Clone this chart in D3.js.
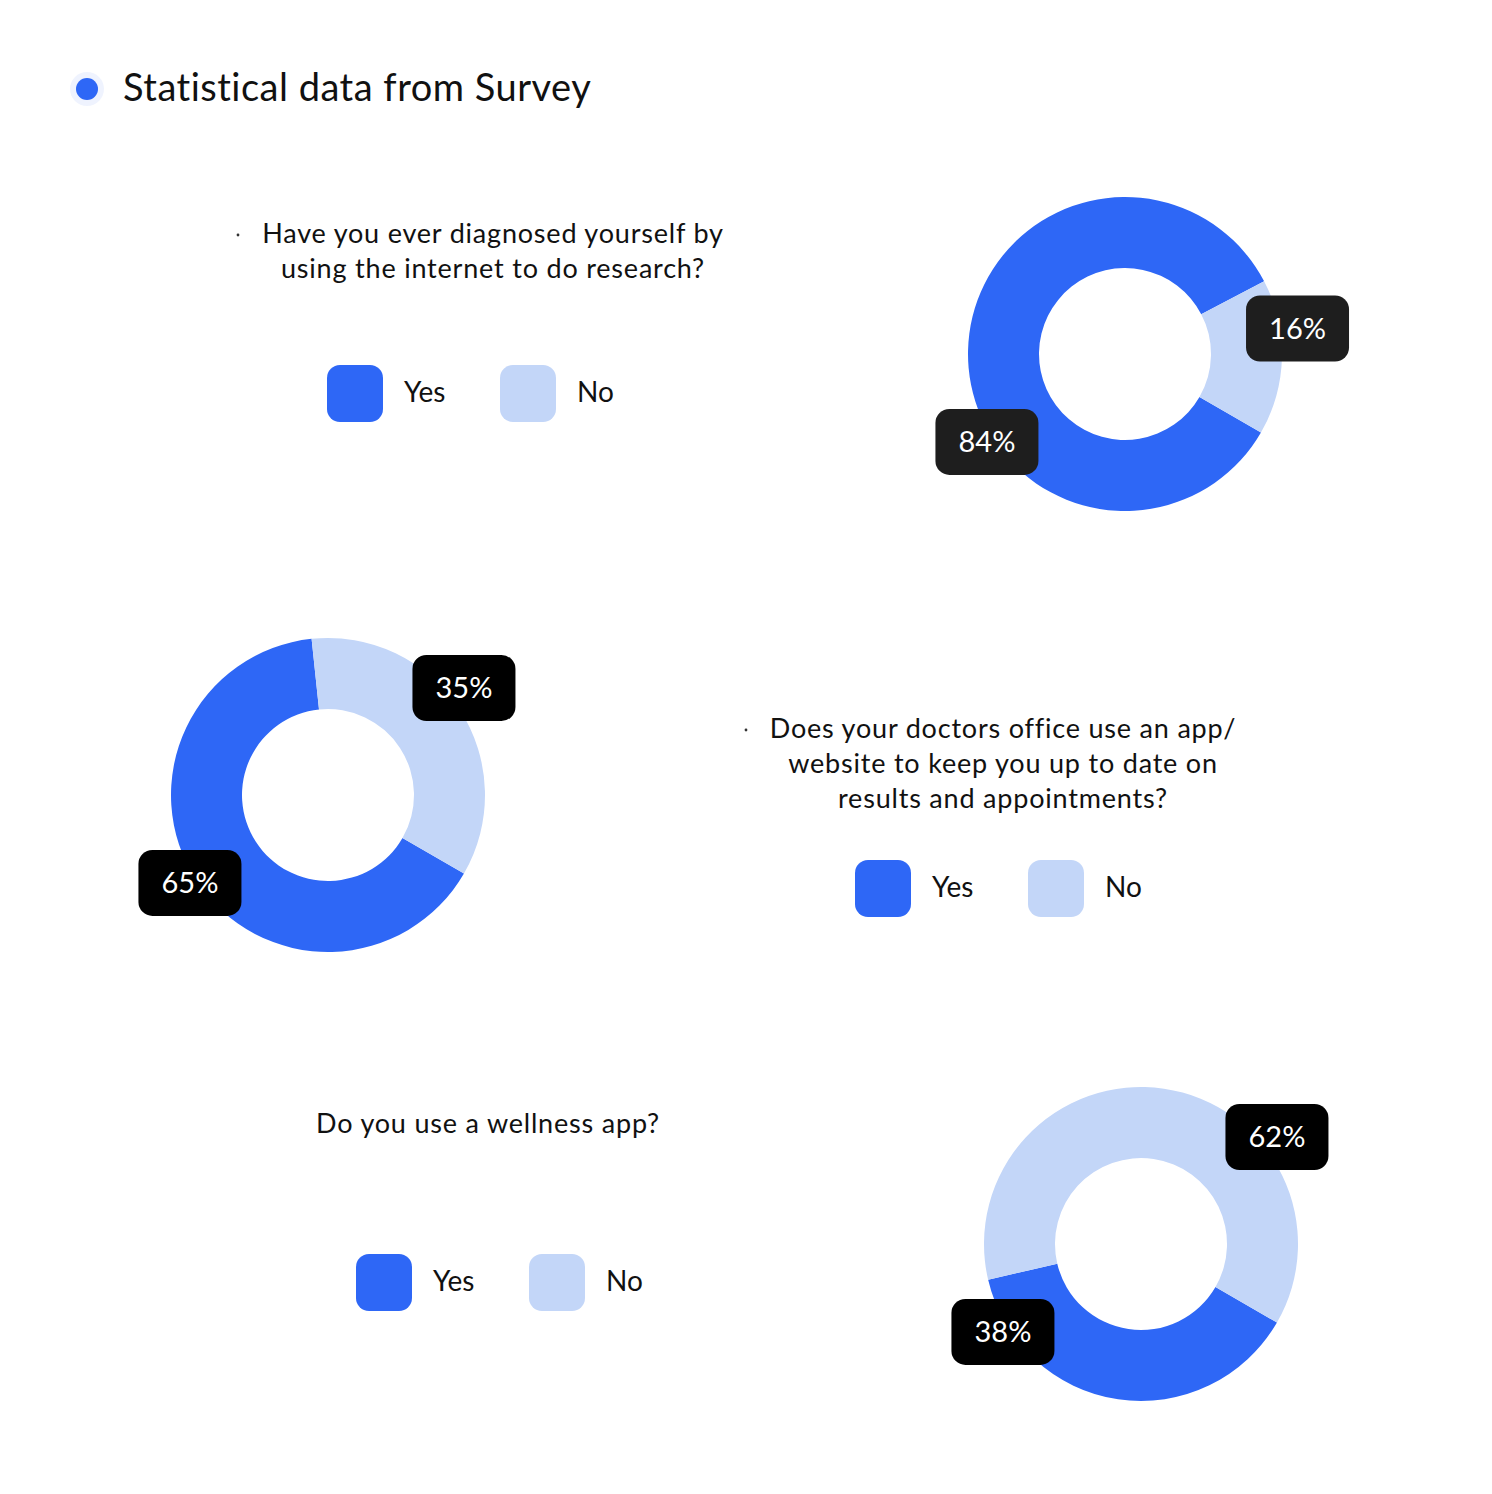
<!DOCTYPE html>
<html><head><meta charset="utf-8">
<script src="https://cdn.jsdelivr.net/npm/d3@7/dist/d3.min.js"></script>
<style>
html,body{margin:0;padding:0;background:#fff;}
svg text{font-family:Lato,"Noto Sans",sans-serif;}
</style></head>
<body>
<svg id="chart" width="1492" height="1494"></svg>
<script>
// ---- data ----
const title = "Statistical data from Survey";
const categories = ["Yes", "No"];
const questions = [
  ["Have you ever diagnosed yourself by", "using the internet to do research?"],
  ["Does your doctors office use an app/", "website to keep you up to date on", "results and appointments?"],
  ["Do you use a wellness app?"]
];
const bullets = [true, true, false];
const yesValues = [84, 65, 38];
const noValues = [16, 35, 62];
const valueLabels = [["84%", "16%"], ["65%", "35%"], ["38%", "62%"]];

// ---- layout / style ----
const W = 1492, H = 1494;
const colors = {Yes: "#2E67F6", No: "#C3D6F8"};
const donutCenters = [[1125, 354], [328, 795], [1141, 1244]];
const outerR = 157, innerR = 86;
const startDeg = 120;
const labelAngles = [[237.5, 81.6], [237.5, 51.8], [237.5, 51.8]];
const labelRadii = [[163.7, 174.4], [163.7, 173], [163.7, 173]];
const labelFill = ["#1E1E1E", "#000000", "#000000"];
const textCenters = [[493, 243], [1003, 738], [488, 1133]];
const bulletX = [238, 746, null];
const legendPos = [[327, 365], [855, 860], [356, 1254]];

const svg = d3.select("#chart");

// title
svg.append("circle").attr("cx", 87).attr("cy", 89).attr("r", 17).attr("fill", "#2E67F6").attr("opacity", 0.08);
svg.append("circle").attr("cx", 87).attr("cy", 89).attr("r", 11).attr("fill", "#2E67F6");
svg.append("text").attr("x", 123).attr("y", 101).attr("font-size", 38).attr("letter-spacing", 0.5)
  .attr("fill", "#111").text(title);

const pie = d3.pie().sort(null).value(d => d.value)
  .startAngle(startDeg * Math.PI / 180).endAngle(startDeg * Math.PI / 180 + 2 * Math.PI);
const arc = d3.arc().innerRadius(innerR).outerRadius(outerR);

questions.forEach((lines, i) => {
  const data = categories.map((c, k) => ({cat: c, value: k === 0 ? yesValues[i] : noValues[i], label: valueLabels[i][k]}));
  const [cx, cy] = donutCenters[i];
  const g = svg.append("g").attr("transform", `translate(${cx},${cy})`);
  const arcs = pie(data);
  g.selectAll("path.slice").data(arcs).join("path").attr("class", "slice")
    .attr("d", arc).attr("fill", d => colors[d.data.cat]);

  // value labels
  arcs.forEach((a, k) => {
    const ang = labelAngles[i][k] * Math.PI / 180, r = labelRadii[i][k];
    const lx = r * Math.sin(ang), ly = -r * Math.cos(ang);
    const lg = g.append("g").attr("transform", `translate(${lx},${ly})`);
    lg.append("rect").attr("x", -51.5).attr("y", -33).attr("width", 103).attr("height", 66)
      .attr("rx", 14).attr("fill", labelFill[i]);
    lg.append("text").attr("text-anchor", "middle").attr("dy", "0.36em")
      .attr("font-size", 29).attr("fill", "#fff").text(a.data.label);
  });

  // question text
  const [tx, ty] = textCenters[i];
  lines.forEach((ln, j) => {
    svg.append("text").attr("x", tx).attr("y", ty + j * 35).attr("text-anchor", "middle")
      .attr("font-size", 27).attr("letter-spacing", 0.8).attr("fill", "#111").text(ln);
  });
  if (bullets[i]) {
    svg.append("circle").attr("cx", bulletX[i]).attr("cy", ty - 8).attr("r", 1.4).attr("fill", "#333");
  }

  // legend
  const [lx0, ly0] = legendPos[i];
  categories.forEach((c, k) => {
    const x = lx0 + k * 173;
    svg.append("rect").attr("x", x).attr("y", ly0).attr("width", 56).attr("height", 57)
      .attr("rx", 13).attr("fill", colors[c]);
    svg.append("text").attr("x", x + 77).attr("y", ly0 + 37).attr("font-size", 28)
      .attr("fill", "#111").text(c);
  });
});
</script>
</body></html>
